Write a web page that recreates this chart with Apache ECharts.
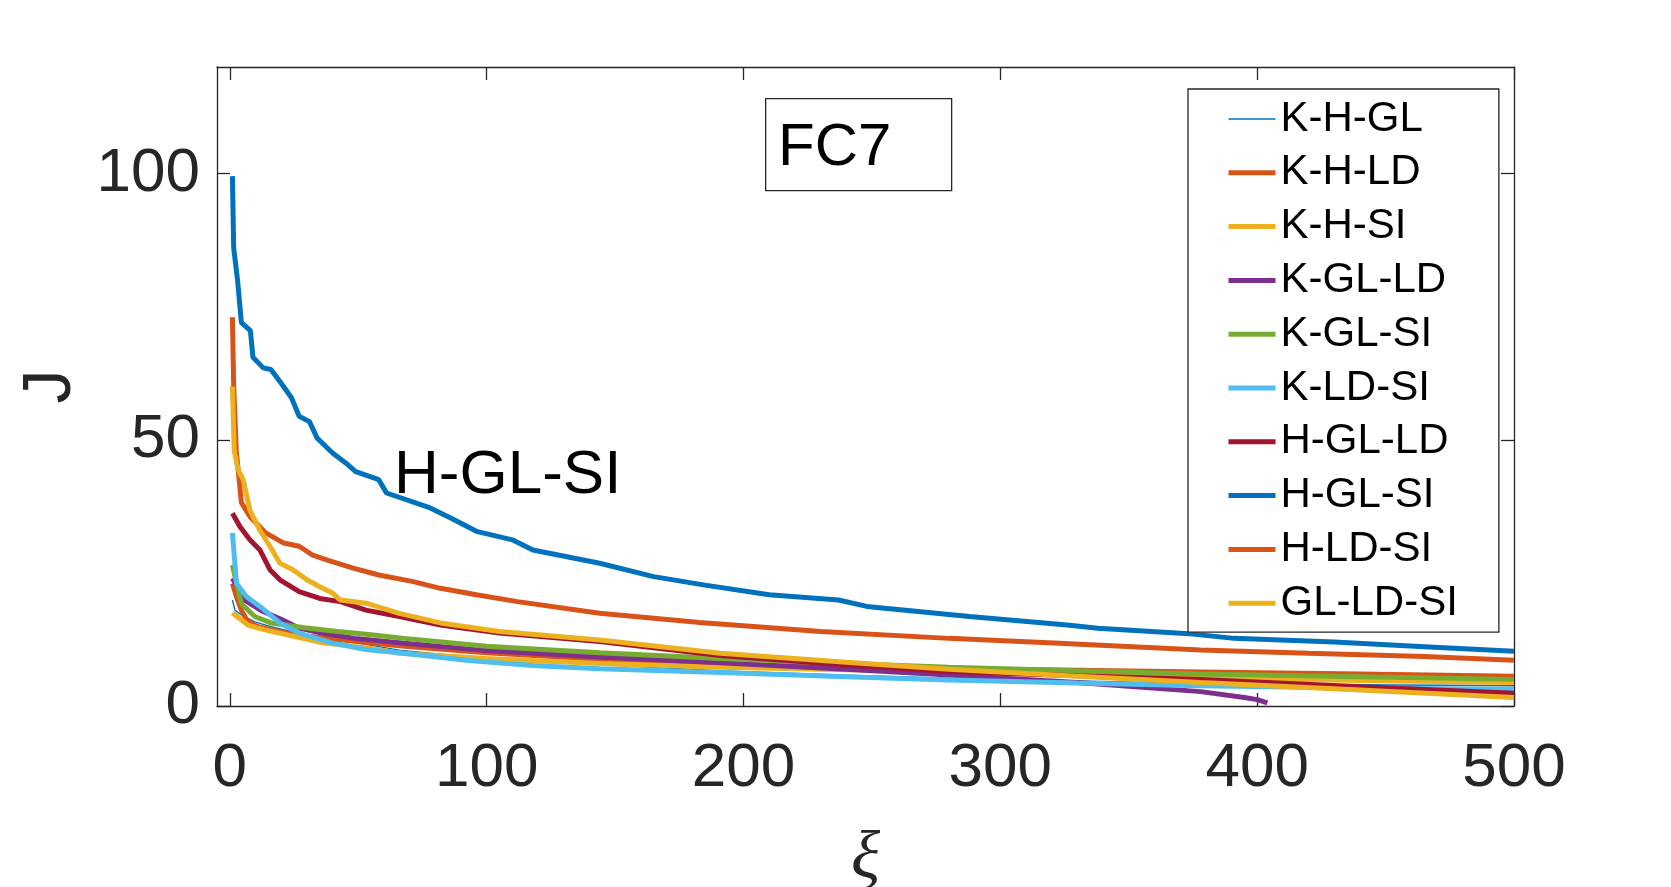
<!DOCTYPE html>
<html>
  <head>
    <meta charset="UTF-8" />
    <title>FC7 J vs xi</title>
    <script src="https://cdn.jsdelivr.net/npm/echarts@6/dist/echarts.min.js"></script>
    <style>
      html, body { margin: 0; padding: 0; background: #fff; }
      #chart { width: 1671px; height: 887px; }
    </style>
  </head>
  <body>
    <div id="chart"></div>
    <script type="text/javascript">
      // 数据：每条曲线为 [xi, J] 点列
      var names = ["K-H-GL", "K-H-LD", "K-H-SI", "K-GL-LD", "K-GL-SI",
                   "K-LD-SI", "H-GL-LD", "H-GL-SI", "H-LD-SI", "GL-LD-SI"];
      var colors = ["#0072BD", "#D95319", "#EDB120", "#7E2F8E", "#77AC30",
                    "#4DBEEE", "#A2142F", "#0072BD", "#D95319", "#EDB120"];
      var xTicks = [0, 100, 200, 300, 400, 500];
      var yTicks = [0, 50, 100];

      var khgl = [[1,19.9],[2,18],[4.5,17.1],[9.7,15.8],[16,14.9],[30,13.3],[50,11.8],[66,10.5],
        [100,8.9],[144,7.8],[191,6.6],[240,5.8],[280,5.2],[330,4.7],[378,4.2],[440,4.0],[500,3.8]];
      var khld = [[1,23],[2.6,20.5],[4.5,18],[7,15.8],[11,14.9],[19,14],[29,13.2],[42,12.5],[68,11.2],
        [100,10.0],[144,8.8],[191,7.8],[240,7.3],[280,7.0],[330,6.7],[378,6.4],[440,6.0],[500,5.6]];
      var khsi = [[1,17.5],[7,15.2],[13.6,14.3],[24,13.2],[35.7,11.9],[55,10.8],[66,9.9],[100,8.9],
        [144,8.0],[191,7.3],[240,6.8],[280,6.4],[330,5.8],[378,5.3],[440,4.8],[500,4.4]];
      var kglld = [[1,24],[5.8,19.9],[12.3,17.9],[20,16.3],[26.6,14.7],[35.7,13.7],[48.7,12.7],[68,11.8],
        [100,10.4],[144,9.2],[191,8.1],[240,6.9],[280,5.8],[330,4.4],[378,2.7],[395,1.6],[400,1.2],[404,0.6]];
      var kglsi = [[1,26.5],[2.6,23],[4.5,19.2],[9.7,16.8],[16,15.6],[29,14.7],[42,14],[55,13.4],[68,12.7],
        [100,11.2],[144,10.0],[191,8.9],[240,8.0],[280,7.3],[330,6.6],[378,6.0],[440,5.5],[500,5.0]];
      var kldsi = [[1,32.5],[2.6,23],[6.5,20.5],[11.7,18.7],[19.5,15.6],[27,13.7],[40,11.8],[53,10.6],
        [66,10.0],[92,8.6],[118,7.6],[144,7.0],[191,6.3],[240,5.5],[280,4.9],[330,4.3],[378,3.8],[440,3.4],[500,3.1]];
      var hglld = [[1,36.2],[3.9,33.7],[7.8,31.2],[11.7,29.3],[15.6,25.6],[19.5,23.7],[27,21.5],[35,20.2],
        [43,19.6],[53,18],[66,16.8],[82,15.2],[105,13.7],[144,12.1],[191,9.5],[240,7.7],[280,6.5],
        [330,5.7],[378,5.0],[440,3.6],[500,2.4]];
      var hglsi = [[1,99.5],[1.5,86],[3,80],[4.5,72],[8,70.5],[9,65.5],[13,63.5],[16,63.2],[20,60.6],
        [24,57.9],[27,54.4],[31,53.4],[34,50.3],[40,47.5],[46,45.3],[49,44],[58,42.5],[61,40],[78,37.2],
        [86,35.3],[96,32.8],[110,31.2],[118,29.3],[144,26.8],[165,24.3],[185,22.7],[210,20.9],[237,19.9],
        [248,18.7],[288,16.8],[326,15.2],[338,14.6],[375,13.5],[391,12.7],[430,12],[467,11.1],[500,10.3]];
      var hldsi = [[1,73],[1.5,60],[2.5,48],[4.5,38.2],[7.8,35.6],[14,32.5],[21,30.6],[27,30],[32,28.4],
        [38,27.4],[48,25.9],[58,24.6],[71,23.4],[82,22.1],[96,20.9],[112,19.6],[144,17.4],[183,15.7],
        [230,14],[280,12.7],[323,11.8],[378,10.5],[420,9.9],[465,9.3],[500,8.6]];
      var glldsi = [[1,60],[1.7,48],[3.2,44.4],[5.2,42.5],[7.8,36.8],[11.7,33],[15.6,30],[19.5,26.8],
        [24.6,25.6],[30,23.7],[35,22.4],[40,21.2],[43,19.9],[53,19.3],[66,17.4],[82,15.6],[105,14],
        [144,12.4],[191,9.9],[240,8.2],[280,6.9],[330,5.6],[378,4.4],[440,3.0],[500,1.6]];

      var allData = [khgl, khld, khsi, kglld, kglsi, kldsi, hglld, hglsi, hldsi, glldsi];
      var widths = [1.4, 5, 5, 5, 5, 5, 5, 5, 5, 5];

      var font = "Liberation Sans, Arial, Helvetica, sans-serif";
      var axisColor = "#262626";

      var myChart = echarts.init(document.getElementById("chart"));

      var series = names.map(function (n, i) {
        return {
          name: n,
          type: "line",
          symbol: "none",
          data: allData[i],
          lineStyle: { width: widths[i], color: colors[i] },
          itemStyle: { color: colors[i] },
          emphasis: { disabled: true },
          animation: false,
        };
      });

      function boxAxis(base, extra) {
        var ax = {
          axisLine: { show: true, onZero: false, lineStyle: { color: axisColor, width: 1.3 } },
          axisTick: { show: true, inside: true, length: 13, lineStyle: { color: axisColor, width: 1.3 } },
          splitLine: { show: false },
        };
        return Object.assign(ax, base, extra);
      }

      var option = {
        backgroundColor: "#fff",
        animation: false,
        grid: { left: 217, right: 157, top: 67, bottom: 181, outerBoundsMode: "none", containLabel: false },
        xAxis: [
          boxAxis({ type: "value", min: -5, max: 500, position: "bottom" }, {
            axisTick: { show: true, inside: true, length: 13, customValues: xTicks,
              lineStyle: { color: axisColor, width: 1.3 } },
            axisLabel: { customValues: xTicks, fontSize: 62, color: axisColor, fontFamily: font, margin: 32 },
            name: "ξ",
            nameLocation: "middle",
            nameGap: 120,
            nameTextStyle: { fontSize: 68, fontStyle: "italic", color: axisColor,
              fontFamily: "Liberation Serif, DejaVu Serif, serif" },
          }),
          boxAxis({ type: "value", min: -5, max: 500, position: "top" }, {
            axisTick: { show: true, inside: true, length: 13, customValues: xTicks,
              lineStyle: { color: axisColor, width: 1.3 } },
            axisLabel: { show: false },
          }),
        ],
        yAxis: [
          boxAxis({ type: "value", min: 0, max: 120, position: "left" }, {
            axisTick: { show: true, inside: true, length: 13, customValues: yTicks,
              lineStyle: { color: axisColor, width: 1.3 } },
            axisLabel: { customValues: yTicks, fontSize: 62, color: axisColor, fontFamily: font, margin: 17 },
            name: "J",
            nameLocation: "middle",
            nameRotate: 90,
            nameGap: 114,
            nameTextStyle: { fontSize: 68, color: axisColor, fontFamily: font },
          }),
          boxAxis({ type: "value", min: 0, max: 120, position: "right" }, {
            axisTick: { show: true, inside: true, length: 13, customValues: yTicks,
              lineStyle: { color: axisColor, width: 1.3 } },
            axisLabel: { show: false },
          }),
        ],
        legend: {
          orient: "vertical",
          left: 1188,
          top: 89,
          padding: [9, 41, 8, 38],
          itemWidth: 47,
          itemHeight: 14,
          itemGap: 11.8,
          backgroundColor: "#fff",
          borderColor: axisColor,
          borderWidth: 1.3,
          borderRadius: 0,
          selectedMode: false,
          itemStyle: { color: "rgba(0,0,0,0)", borderWidth: 0 },
          textStyle: { fontSize: 42, lineHeight: 42, color: "#000", fontFamily: font },
          data: names.map(function (n, i) {
            return { name: n, lineStyle: { width: widths[i] } };
          }),
        },
        graphic: [
          {
            type: "rect",
            left: 765,
            top: 98,
            z: 100,
            shape: { width: 186, height: 92 },
            style: { fill: "#fff", stroke: axisColor, lineWidth: 1.3 },
          },
          {
            type: "text",
            left: 778,
            top: 118,
            z: 101,
            style: { text: "FC7", fontSize: 60, fill: "#000", fontFamily: font },
          },
          {
            type: "text",
            left: 394,
            top: 445,
            z: 101,
            style: { text: "H-GL-SI", fontSize: 62, fill: "#000", fontFamily: font },
          },
        ],
        series: series,
      };

      myChart.setOption(option);
    </script>
  </body>
</html>
